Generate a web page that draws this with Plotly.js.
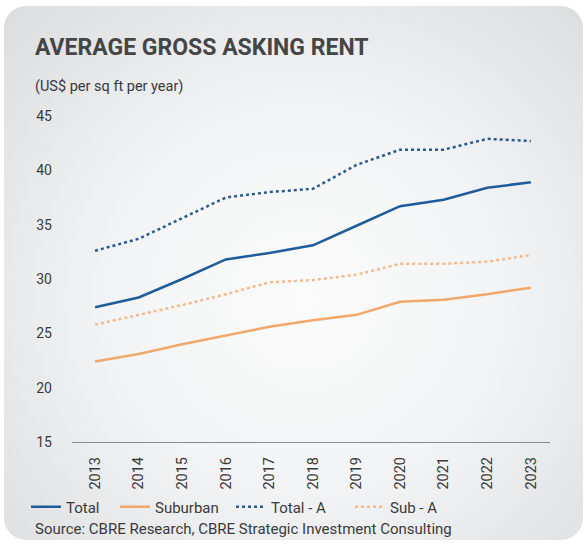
<!DOCTYPE html>
<html>
<head>
<meta charset="utf-8">
<script src="https://cdn.plot.ly/plotly-3.0.1.min.js"></script>
<style>
  html, body { margin: 0; padding: 0; background: #ffffff; }
  #card {
    position: absolute; left: 4px; top: 6px; width: 579px; height: 534px;
    border-radius: 22px;
    background: radial-gradient(ellipse at 52% 55%, #fbfbfb 0%, #f3f4f5 45%, #dadcde 100%);
  }
  #chart { position: absolute; left: 0; top: 0; width: 587px; height: 546px; }
</style>
</head>
<body>
<div id="card"></div>
<div id="chart"></div>
<script>
const years = ['2013','2014','2015','2016','2017','2018','2019','2020','2021','2022','2023'];
const total    = [27.4, 28.3, 30.0, 31.8, 32.4, 33.1, 34.9, 36.7, 37.3, 38.4, 38.9];
const suburban = [22.4, 23.1, 24.0, 24.8, 25.6, 26.2, 26.7, 27.9, 28.1, 28.6, 29.2];
const totalA   = [32.6, 33.7, 35.6, 37.5, 38.0, 38.3, 40.5, 41.9, 41.9, 42.9, 42.7];
const subA     = [25.8, 26.7, 27.6, 28.6, 29.7, 29.9, 30.4, 31.4, 31.4, 31.6, 32.2];
const yTicks   = [15, 20, 25, 30, 35, 40, 45];

const xNum = years.map(Number);
const traces = [
  {x: xNum, y: total, name: 'Total', legend: 'legend', mode: 'lines', line: {color: '#1e5c9b', width: 2.5}},
  {x: xNum, y: suburban, name: 'Suburban', legend: 'legend2', mode: 'lines', line: {color: '#f2a86a', width: 2.5}},
  {x: xNum, y: totalA, name: 'Total - A', legend: 'legend3', mode: 'lines', line: {color: '#2a5a8e', width: 2.5, dash: 'dot'}},
  {x: xNum, y: subA, name: 'Sub - A', legend: 'legend4', mode: 'lines', line: {color: '#f5b98c', width: 2.5, dash: 'dot'}}
];

const font = 'Roboto, "Liberation Sans", Arial, sans-serif';
const px2x = p => (p - 72) / 478;
const py2y = p => (442 - p) / 326;
const mkLegend = p => ({orientation: 'h', x: px2x(p), xanchor: 'left', y: py2y(507), yanchor: 'middle',
  font: {size: 15, color: '#3a3a3a'}, bgcolor: 'rgba(0,0,0,0)', itemwidth: 30});

const layout = {
  width: 587, height: 546,
  paper_bgcolor: 'rgba(0,0,0,0)', plot_bgcolor: 'rgba(0,0,0,0)',
  margin: {l: 72, r: 37, t: 116, b: 104},
  font: {family: font, color: '#3a3a3a', size: 14},
  title: {text: '<b>AVERAGE GROSS ASKING RENT</b>', x: 35/587, xanchor: 'left', y: 1 - 47/546, yanchor: 'middle',
          font: {family: font, size: 23, color: '#454545'}},
  showlegend: true,
  legend: mkLegend(26),
  legend2: mkLegend(115),
  legend3: mkLegend(231),
  legend4: mkLegend(350),
  xaxis: {range: [2012.47, 2023.44], tickvals: xNum, ticktext: years, tickangle: -90,
          showgrid: false, zeroline: false, showline: true, linecolor: '#8a8a8a', linewidth: 1.2,
          ticks: '', ticklabelstandoff: 8, tickfont: {size: 14.5, color: '#3a3a3a'}, fixedrange: true},
  yaxis: {range: [15, 45], tickvals: yTicks, showgrid: false, zeroline: false, showline: false,
          ticks: '', ticklabelstandoff: 19, tickfont: {size: 14, color: '#3a3a3a'}, fixedrange: true},
  annotations: [
    {text: '(US$ per sq ft per year)', xref: 'paper', yref: 'paper', x: px2x(33), xanchor: 'left',
     y: py2y(86), yanchor: 'middle', showarrow: false, font: {size: 14.5, color: '#3a3a3a'}},
    {text: 'Source: CBRE Research, CBRE Strategic Investment Consulting', xref: 'paper', yref: 'paper',
     x: px2x(33), xanchor: 'left', y: py2y(529), yanchor: 'middle', showarrow: false,
     font: {size: 15, color: '#3a3a3a'}}
  ]
};
Plotly.newPlot('chart', traces, layout, {displayModeBar: false, staticPlot: true});
</script>
</body>
</html>
